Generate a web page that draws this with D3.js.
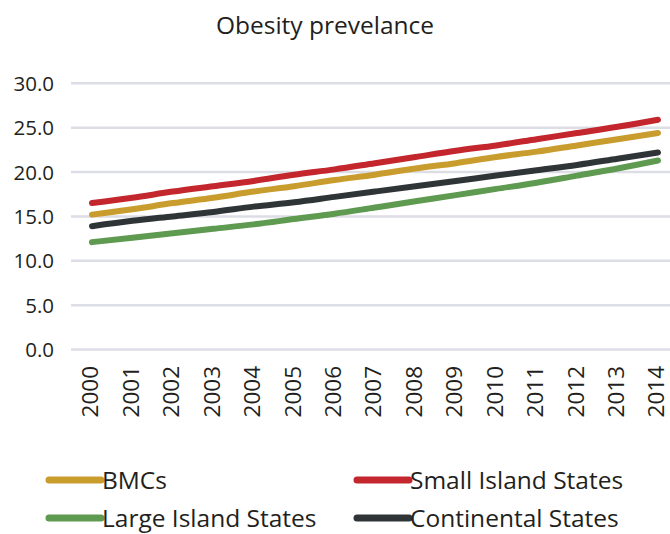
<!DOCTYPE html>
<html>
<head>
<meta charset="utf-8">
<script src="https://cdn.jsdelivr.net/npm/d3@7"></script>
<style>
  html, body { margin: 0; padding: 0; background: #fff; }
  svg { display: block; }
  text { font-family: "Open Sans", "Noto Sans", sans-serif; fill: #231f20; }
</style>
</head>
<body>
<svg id="chart" width="670" height="534"></svg>
<script>
// Obesity prevalence (%) by country group, 2000-2014
const years = [2000, 2001, 2002, 2003, 2004, 2005, 2006, 2007, 2008, 2009, 2010, 2011, 2012, 2013, 2014];
const bmcs        = [15.2, 15.8, 16.5, 17.1, 17.8, 18.4, 19.1, 19.7, 20.4, 21.0, 21.7, 22.3, 23.0, 23.7, 24.4];
const smallIsland = [16.5, 17.1, 17.8, 18.4, 19.0, 19.7, 20.3, 21.0, 21.7, 22.4, 23.0, 23.7, 24.4, 25.1, 25.9];
const largeIsland = [12.1, 12.6, 13.1, 13.6, 14.1, 14.7, 15.3, 16.0, 16.7, 17.4, 18.1, 18.8, 19.6, 20.4, 21.3];
const continental = [13.9, 14.5, 15.0, 15.5, 16.1, 16.6, 17.2, 17.8, 18.4, 19.0, 19.6, 20.2, 20.8, 21.5, 22.2];
const yTicks = [0, 5, 10, 15, 20, 25, 30];

const seriesNames  = ["BMCs", "Small Island States", "Large Island States", "Continental States"];
const seriesValues = [bmcs, smallIsland, largeIsland, continental];
const seriesColors = ["#c99c2e", "#c4262e", "#5e9a50", "#2f3537"];

const svg = d3.select("#chart");

const x = d3.scalePoint().domain(years).range([92, 658]);
const y = d3.scaleLinear().domain([0, 30]).range([349.5, 83.3]);

// Title
svg.append("text")
  .attr("x", 325).attr("y", 34)
  .attr("text-anchor", "middle")
  .style("font-size", "24.5px")
  .text("Obesity prevelance");

// Horizontal grid lines
svg.append("g")
  .selectAll("line")
  .data(yTicks)
  .join("line")
  .attr("x1", 71).attr("x2", 670)
  .attr("y1", d => y(d)).attr("y2", d => y(d))
  .attr("stroke", "#dcdde5")
  .attr("stroke-width", 2.5);

// Y axis labels
const yAxis = d3.axisLeft(y).tickValues(yTicks).tickFormat(d3.format(".1f")).tickSize(0).tickPadding(0);
const gy = svg.append("g").attr("transform", "translate(54,0)").call(yAxis);
gy.select(".domain").remove();
gy.selectAll("text")
  .style("font-size", "20.5px")
  .style("font-family", "'Open Sans', sans-serif")
  .attr("fill", "#1c1a1b")
  .attr("dy", "0.35em");

// X axis labels (rotated)
const xAxis = d3.axisBottom(x).tickSize(0).tickPadding(0);
const gx = svg.append("g").attr("transform", "translate(-2,366)").call(xAxis);
gx.select(".domain").remove();
gx.selectAll("text")
  .style("font-size", "22.5px")
  .style("font-family", "'Open Sans', sans-serif")
  .attr("fill", "#1c1a1b")
  .attr("transform", "rotate(-90)")
  .attr("text-anchor", "end")
  .attr("x", 0).attr("y", 0)
  .attr("dy", "0.35em");

// Series lines
const line = d3.line()
  .x((d, i) => x(years[i]))
  .y(d => y(d))
  .curve(d3.curveMonotoneX);

svg.append("g")
  .selectAll("path")
  .data(seriesValues)
  .join("path")
  .attr("d", d => line(d))
  .attr("fill", "none")
  .attr("stroke", (d, i) => seriesColors[i])
  .attr("stroke-width", 6)
  .attr("stroke-linecap", "round")
  .attr("stroke-linejoin", "round");

// Legend: two columns, two rows
const legendPos = [[46, 480], [354, 480], [46, 518], [354, 518]];
const legend = svg.append("g")
  .selectAll("g")
  .data(seriesNames)
  .join("g")
  .attr("transform", (d, i) => `translate(${legendPos[i][0]},${legendPos[i][1]})`);

legend.append("line")
  .attr("x1", 3).attr("x2", 55)
  .attr("y1", 0).attr("y2", 0)
  .attr("stroke", (d, i) => seriesColors[i])
  .attr("stroke-width", 7)
  .attr("stroke-linecap", "round");

legend.append("text")
  .attr("x", 56)
  .attr("dy", "0.35em")
  .style("font-size", "24.5px")
  .text(d => d);
</script>
</body>
</html>
